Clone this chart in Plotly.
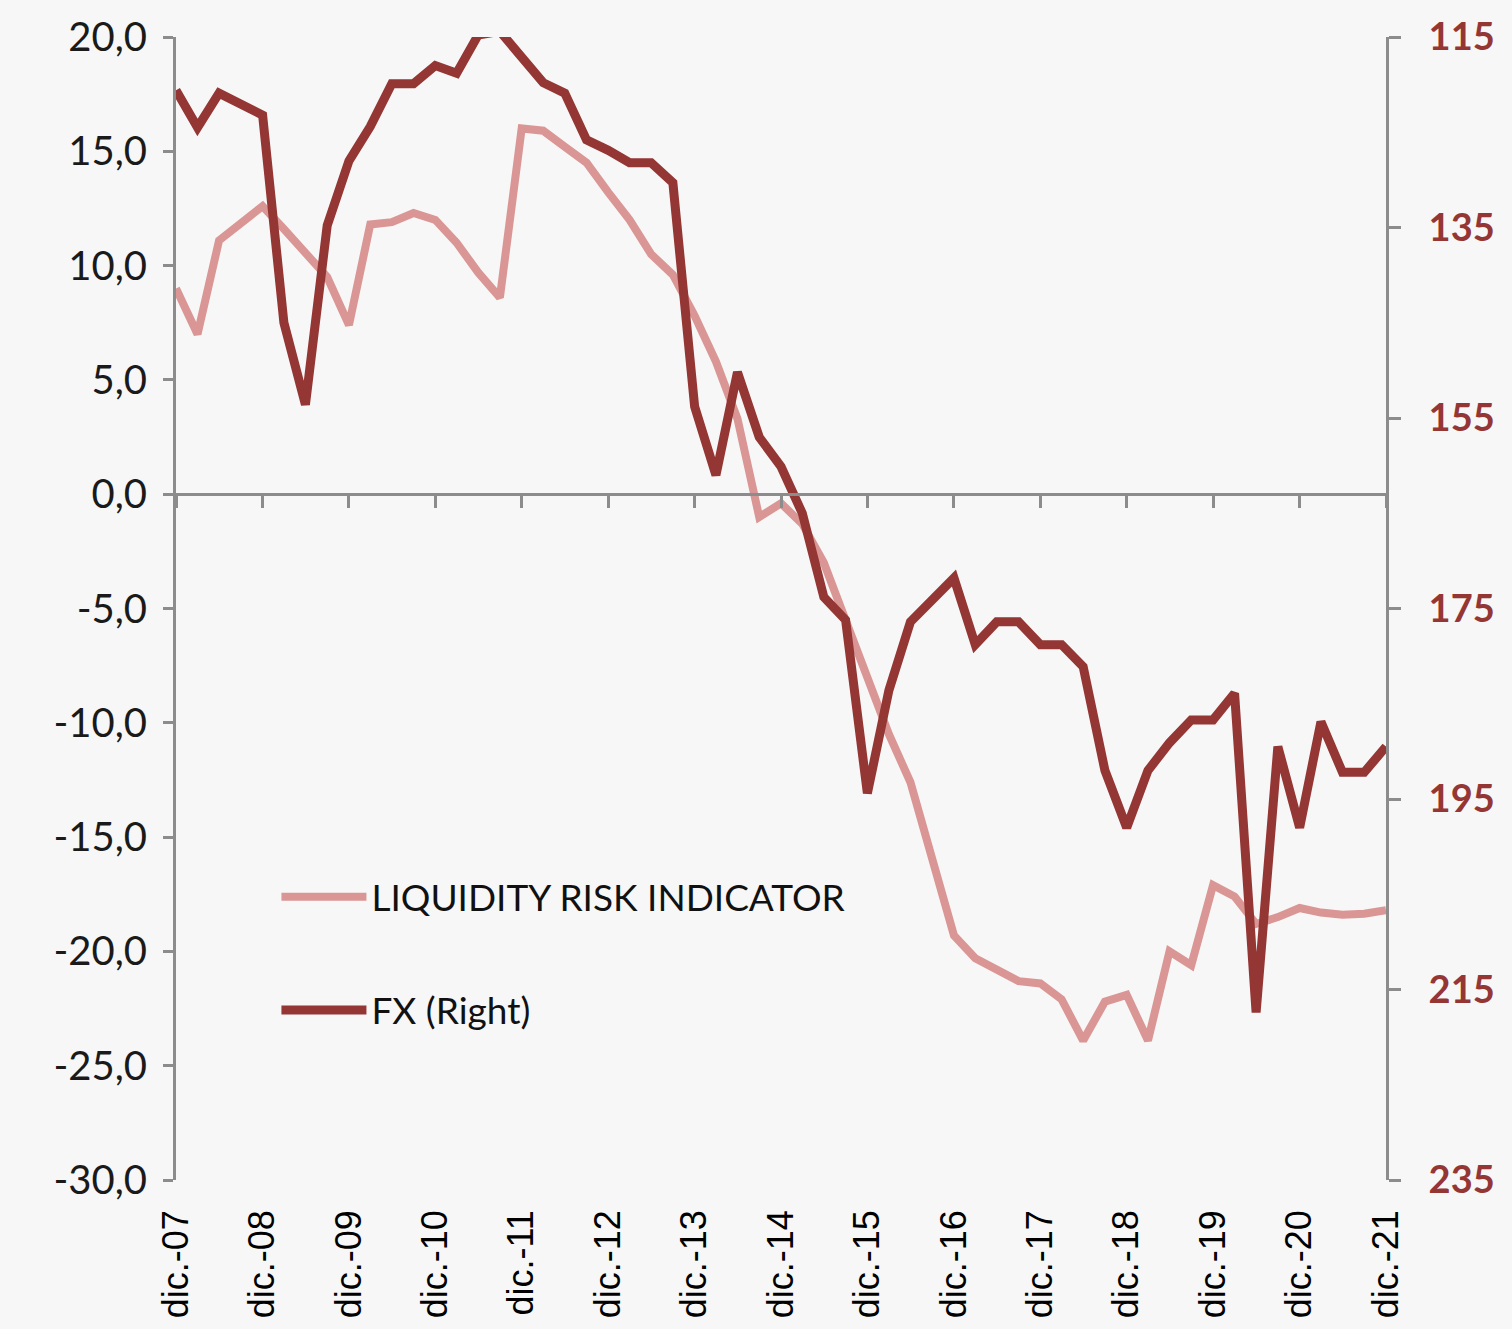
import pandas as pd
import plotly.graph_objects as go

# ---- data (quarterly, dic-2007 .. dic-2021) ----
dates = pd.date_range("2007-12-31", periods=57, freq="QE")

liquidity = [9.0, 7.0, 11.1, 11.9, 12.6, 11.6, 10.5, 9.5, 7.4, 11.8,
             11.9, 12.3, 12.0, 11.0, 9.7, 8.6, 16.0, 15.9, 15.2, 14.5,
             13.2, 12.0, 10.5, 9.6, 7.8, 5.8, 3.3, -1.0, -0.4, -1.3,
             -3.0, -5.5, -8.2, -10.5, -12.6, -16.0, -19.3, -20.3, -20.8, -21.3,
             -21.4, -22.1, -23.9, -22.2, -21.9, -23.9, -20.0, -20.6, -17.1, -17.6,
             -18.8, -18.5, -18.1, -18.3, -18.4, -18.35, -18.2]

fx = [120.6, 124.5, 120.9, 122.0, 123.2, 145.0, 153.6, 134.8, 128.0, 124.4,
      119.9, 119.9, 118.0, 118.8, 114.8, 114.4, 117.2, 119.8, 120.9, 125.8,
      126.9, 128.2, 128.2, 130.3, 153.8, 161.0, 150.2, 157.0, 160.1, 165.0,
      173.8, 176.2, 194.4, 183.6, 176.4, 174.1, 171.8, 178.8, 176.4, 176.4,
      178.8, 178.8, 181.1, 192.0, 198.0, 192.0, 189.1, 186.7, 186.7, 183.9,
      217.4, 189.5, 198.0, 186.9, 192.2, 192.2, 189.5]

year_ticks = pd.date_range("2007-12-31", periods=15, freq="YE")
x_labels = ["dic.-07", "dic.-08", "dic.-09", "dic.-10", "dic.-11", "dic.-12", "dic.-13",
            "dic.-14", "dic.-15", "dic.-16", "dic.-17", "dic.-18", "dic.-19", "dic.-20", "dic.-21"]

left_vals = [-30, -25, -20, -15, -10, -5, 0, 5, 10, 15, 20]
left_text = ["-30,0", "-25,0", "-20,0", "-15,0", "-10,0", "-5,0", "0,0", "5,0", "10,0", "15,0", "20,0"]
right_vals = [115, 135, 155, 175, 195, 215, 235]

PINK = "#DA9694"
DARK = "#943634"
AXIS = "#8C8C8C"
BG = "#F7F7F7"

fig = go.Figure()
fig.add_trace(go.Scatter(x=dates, y=liquidity, name="LIQUIDITY RISK INDICATOR",
                         legendgroup="a",
                         mode="lines", line=dict(color=PINK, width=8), yaxis="y"))
fig.add_trace(go.Scatter(x=dates, y=fx, name="FX (Right)", legendgroup="b",
                         mode="lines", line=dict(color=DARK, width=9), yaxis="y2"))

xr = [dates[0], dates[-1]]
fig.update_layout(
    width=1512, height=1329,
    paper_bgcolor=BG, plot_bgcolor=BG,
    margin=dict(l=176, r=126, t=37, b=149),
    showlegend=True,
    legend=dict(x=0.083, y=0.2745, xanchor="left", yanchor="top",
                bgcolor="rgba(0,0,0,0)", tracegroupgap=62,
                font=dict(family="Lato", size=37, color="#111111"),
                itemwidth=85),
    xaxis=dict(type="date", range=xr, anchor="free", position=0.6,
               showline=True, linecolor=AXIS, linewidth=3, automargin=False,
               tickvals=year_ticks, ticks="outside", ticklen=12, tickwidth=3,
               tickcolor=AXIS, showticklabels=False, showgrid=False, zeroline=False),
    xaxis2=dict(type="date", range=xr, overlaying="x", anchor="y", side="bottom",
                showline=False, showgrid=False, zeroline=False, automargin=False,
                tickvals=year_ticks, ticktext=x_labels, tickangle=-90,
                ticks="", ticklabelstandoff=22,
                tickfont=dict(family="Liberation Sans", size=36, color="#000000")),
    yaxis=dict(range=[-30, 20], tickvals=left_vals, ticktext=left_text, automargin=False,
               showline=True, linecolor=AXIS, linewidth=3, ticks="outside",
               ticklen=10, tickwidth=3, tickcolor=AXIS, showgrid=False, zeroline=False,
               ticklabelstandoff=8,
               tickfont=dict(family="Lato", size=40, color="#1a1a1a")),
    yaxis2=dict(range=[235, 115], overlaying="y", side="right", anchor="x",
                tickvals=right_vals, showline=True, linecolor=AXIS, linewidth=3,
                ticks="outside", ticklen=12, tickwidth=3, tickcolor=AXIS, automargin=False,
                showgrid=False, zeroline=False, ticklabelstandoff=20,
                tickfont=dict(family="Lato", size=38, color=DARK, weight="bold")),
)
# invisible trace that activates the bottom label axis
fig.add_trace(go.Scatter(x=[dates[0]], y=[None], xaxis="x2", yaxis="y",
                         showlegend=False, hoverinfo="skip"))

fig.write_html("out.html", config={"displayModeBar": False},
               post_script="document.body.style.margin='0';document.body.style.overflow='hidden';document.body.style.background='#F7F7F7';")
